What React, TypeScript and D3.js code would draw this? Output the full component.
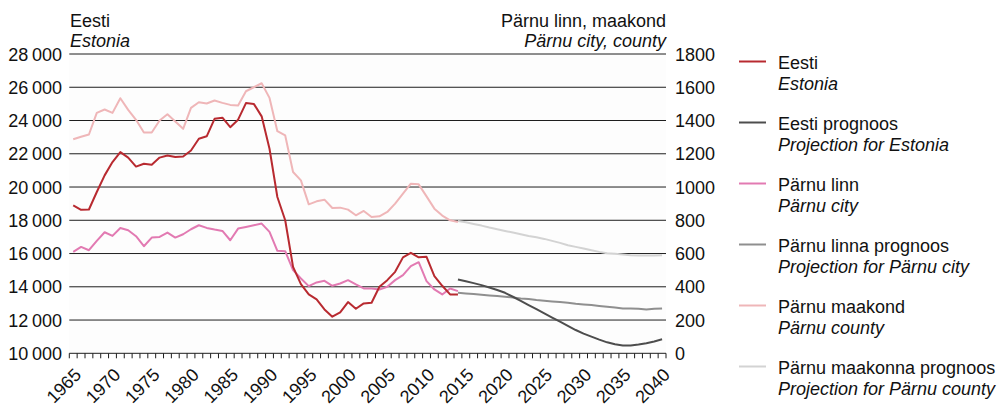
import React from "react";
import * as d3 from "d3";

const histYears: number[] = d3.range(1965, 2015);
const projYears: number[] = d3.range(2014, 2041);
const allYears: number[] = d3.range(1965, 2041);
const labelYears: number[] = [1965, 1970, 1975, 1980, 1985, 1990, 1995, 2000, 2005, 2010, 2015, 2020, 2025, 2030, 2035, 2040];

const leftTicks: number[] = [10000, 12000, 14000, 16000, 18000, 20000, 22000, 24000, 26000, 28000];
const rightTicks: number[] = [0, 200, 400, 600, 800, 1000, 1200, 1400, 1600, 1800];

const eesti: number[] = [
  18900, 18630, 18650, 19700, 20700, 21500, 22100, 21770, 21230, 21400,
  21340, 21770, 21900, 21800, 21840, 22200, 22900, 23050, 24100, 24170,
  23600, 24050, 25050, 25000, 24250, 22300, 19400, 18000, 15200, 14160,
  13540, 13240, 12640, 12200, 12460, 13080, 12680, 13000, 13040, 14000,
  14400, 14900, 15770, 16040, 15770, 15800, 14640, 14060, 13540, 13540,
];
const eestiProg: number[] = [
  14440, 14330, 14220, 14100, 13960, 13810, 13640, 13400, 13150, 12900,
  12650, 12400, 12150, 11900, 11650, 11400, 11180, 11000, 10820, 10660,
  10540, 10470, 10470, 10530, 10610, 10710, 10840,
];
const parnuLinn: number[] = [
  610, 640, 620, 676, 728, 706, 754, 740, 704, 644,
  696, 700, 726, 696, 716, 746, 770, 754, 744, 736,
  680, 750, 760, 770, 780, 730, 616, 614, 500, 450,
  404, 426, 436, 406, 420, 440, 414, 390, 390, 384,
  400, 440, 470, 524, 548, 434, 384, 354, 390, 374,
];
const parnuLinnProg: number[] = [
  364, 360, 356, 352, 348, 344, 340, 336, 330, 326,
  320, 316, 312, 308, 304, 298, 294, 290, 285, 280,
  275, 270, 270, 268, 264, 268, 270,
];
const parnuMaakond: number[] = [
  1287, 1302, 1316, 1446, 1466, 1446, 1534, 1464, 1404, 1328,
  1328, 1400, 1438, 1394, 1350, 1476, 1510, 1502, 1520, 1506,
  1494, 1490, 1576, 1600, 1624, 1536, 1336, 1310, 1090, 1040,
  896, 914, 924, 874, 876, 864, 830, 856, 820, 824,
  850, 900, 960, 1020, 1016, 944, 870, 828, 800, 790,
];
const parnuMaakondProg: number[] = [
  796, 788, 778, 768, 756, 746, 736, 726, 716, 706,
  698, 688, 676, 664, 650, 640, 630, 620, 610, 602,
  598, 594, 590, 588, 588, 588, 590,
];

const legendItems = [
  { et: "Eesti", en: "Estonia", color: "#b82a30" },
  { et: "Eesti prognoos", en: "Projection for Estonia", color: "#4d4d4d" },
  { et: "Pärnu linn", en: "Pärnu city", color: "#e27ab2" },
  { et: "Pärnu linna prognoos", en: "Projection for Pärnu city", color: "#8f8f8f" },
  { et: "Pärnu maakond", en: "Pärnu county", color: "#efb6b8" },
  { et: "Pärnu maakonna prognoos", en: "Projection for Pärnu county", color: "#d3d3d3" },
];

const FONT = "'Liberation Sans', Arial, Helvetica, sans-serif";

export default function App() {
  const left = 69.3, right = 666, top = 54, bottom = 353.3;
  const x = d3.scaleBand<number>().domain(allYears).range([left, right]).paddingInner(0).paddingOuter(0);
  const bw = x.bandwidth();
  const cx = (y: number) => (x(y) as number) + bw / 2;
  const yL = d3.scaleLinear().domain([10000, 28000]).range([bottom, top]);
  const yR = d3.scaleLinear().domain([0, 1800]).range([bottom, top]);

  const mk = (years: number[], vals: number[], sc: d3.ScaleLinear<number, number>) =>
    d3.line<number>().x((_, i) => cx(years[i])).y((v) => sc(v))(vals) || "";

  const series = [
    { d: mk(projYears, parnuMaakondProg, yR), c: legendItems[5].color },
    { d: mk(histYears, parnuMaakond, yR), c: legendItems[4].color },
    { d: mk(projYears, parnuLinnProg, yR), c: legendItems[3].color },
    { d: mk(histYears, parnuLinn, yR), c: legendItems[2].color },
    { d: mk(projYears, eestiProg, yL), c: legendItems[1].color },
    { d: mk(histYears, eesti, yL), c: legendItems[0].color },
  ];

  const fmt = (v: number) => {
    const s = String(v);
    return s.length > 3 ? s.slice(0, s.length - 3) + "\u2009" + s.slice(s.length - 3) : s;
  };

  const tickXs = d3.range(0, allYears.length + 1).map((k) => left + k * bw);

  return (
    <svg width={1008} height={408} style={{ position: "absolute", left: 0, top: 0, background: "#fff" }} fontFamily={FONT}>
      <rect x={left} y={top} width={right - left} height={bottom - top} fill="#fdfdfd" />
      {leftTicks.map((t) => (
        <line key={"g" + t} x1={left} x2={right} y1={yL(t)} y2={yL(t)} stroke="#1e1e1e" strokeWidth={1} />
      ))}
      {tickXs.map((tx, i) => (
        <line key={"t" + i} x1={tx} x2={tx} y1={bottom} y2={bottom + 5} stroke="#1e1e1e" strokeWidth={1} />
      ))}
      {series.map((s, i) => (
        <path key={"s" + i} d={s.d} fill="none" stroke={s.c} strokeWidth={2} strokeLinejoin="round" />
      ))}
      {leftTicks.map((t) => (
        <text key={"l" + t} x={62} y={yL(t) + 6.5} textAnchor="end" fontSize={18} fill="#111">
          {fmt(t)}
        </text>
      ))}
      {rightTicks.map((t) => (
        <text key={"r" + t} x={675} y={yR(t) + 6.5} textAnchor="start" fontSize={18} fill="#111">
          {t}
        </text>
      ))}
      {labelYears.map((yr) => (
        <text key={"x" + yr} transform={`translate(${cx(yr) + 9},${376}) rotate(-45)`} textAnchor="end" fontSize={18} fill="#111">
          {yr}
        </text>
      ))}
      <text x={70} y={27} fontSize={18} fill="#111">Eesti</text>
      <text x={70} y={47} fontSize={18} fontStyle="italic" fill="#111">Estonia</text>
      <text x={666} y={27} fontSize={18} textAnchor="end" fill="#111">Pärnu linn, maakond</text>
      <text x={666} y={47} fontSize={18} textAnchor="end" fontStyle="italic" fill="#111">Pärnu city, county</text>
      {legendItems.map((it, i) => {
        const ly = 61.5 + i * 61.0;
        return (
          <g key={"lg" + i}>
            <line x1={739} x2={766} y1={ly} y2={ly} stroke={it.color} strokeWidth={2} />
            <text x={778} y={ly + 7} fontSize={18} fill="#111">{it.et}</text>
            <text x={778} y={ly + 28} fontSize={18} fontStyle="italic" fill="#111">{it.en}</text>
          </g>
        );
      })}
    </svg>
  );
}
